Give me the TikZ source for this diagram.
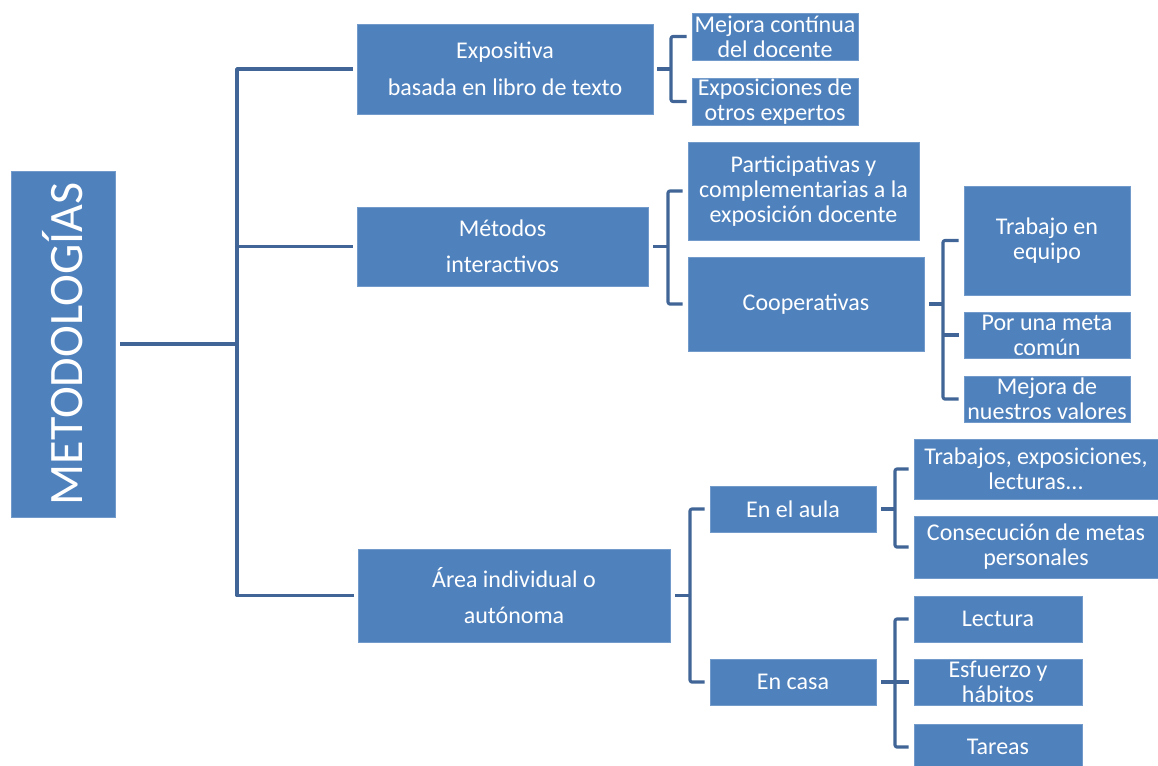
\documentclass[tikz,border=0pt]{standalone}
\usepackage{fontspec}
\setmainfont{Carlito}
\usepackage{graphicx}
\definecolor{boxblue}{RGB}{79,129,189}
\definecolor{lineblue}{RGB}{64,101,150}
\tikzset{
  bx/.style={fill=boxblue, draw=boxblue!80!white, line width=0.6pt, text=white, inner sep=0pt, align=center,
     font=\fontsize{24}{25}\selectfont},
  bxloose/.style={bx, font=\fontsize{24}{36.5}\selectfont},
  conn/.style={draw=lineblue, line width=3.6pt, line join=round},
  brk/.style={draw=lineblue, line width=3.2pt, line join=round, rounded corners=2pt},
}
\begin{document}
\begin{tikzpicture}[x=1pt,y=-1pt]
\useasboundingbox (0,0) rectangle (1158,765);
% boxes
\node[bx, minimum width=104pt, minimum height=346pt] (root) at (63,344)
  {\fontsize{48}{50}\selectfont\rotatebox{90}{METODOLOGÍAS}};
\node[bxloose, minimum width=296pt, minimum height=90pt] (expo) at (505,69) {Expositiva\\basada en libro de texto};
\node[bx, minimum width=166pt, minimum height=47pt] (mejora) at (775,36.5) {Mejora contínua\\del docente};
\node[bx, minimum width=166pt, minimum height=47pt] (exposic) at (775,101.5) {Exposiciones de\\otros expertos};
\node[bxloose, minimum width=291pt, minimum height=79pt] (metodos) at (502.5,246.5) {Métodos\\interactivos};
\node[bx, minimum width=231pt, minimum height=98pt] (partic) at (803.5,191) {Participativas y\\complementarias a la\\exposición docente};
\node[bx, minimum width=236pt, minimum height=94pt] (coop) at (806,304) {Cooperativas};
\node[bx, minimum width=166pt, minimum height=109pt] (trabajo) at (1047,240.5) {Trabajo en\\equipo};
\node[bx, minimum width=166pt, minimum height=46pt] (meta) at (1047,335) {Por una meta\\común};
\node[bx, minimum width=166pt, minimum height=46pt] (valores) at (1047,399) {Mejora de\\nuestros valores};
\node[bxloose, minimum width=312pt, minimum height=93pt] (area) at (514,595.5) {Área individual o\\autónoma};
\node[bx, minimum width=166pt, minimum height=46pt] (aula) at (793,509) {En el aula};
\node[bx, minimum width=166pt, minimum height=46pt] (casa) at (793,682) {En casa};
\node[bx, minimum width=244pt, minimum height=60pt] (trabajos) at (1036,469) {Trabajos, exposiciones,\\lecturas...};
\node[bx, minimum width=244pt, minimum height=62pt] (consec) at (1036,547) {Consecución de metas\\personales};
\node[bx, minimum width=168pt, minimum height=46pt] (lectura) at (998,619) {Lectura};
\node[bx, minimum width=168pt, minimum height=46pt] (esfuerzo) at (998,682) {Esfuerzo y\\hábitos};
\node[bx, minimum width=168pt, minimum height=46pt] (tareas) at (998,747) {Tareas};
% junctions
\coordinate (j0) at (237,344);
\coordinate (j1) at (671,69);
\coordinate (j2) at (668,246.5);
\coordinate (j3) at (943,304);
\coordinate (j4) at (690,595.5);
\coordinate (j5) at (895,509);
\coordinate (j6) at (895,682);
% connectors
\draw[conn] ([xshift=5pt]root.east) -- (j0);
\draw[conn] ([xshift=-4pt]expo.west) -| (j0) |- ([xshift=-4pt]area.west);
\draw[conn] (j0 |- metodos.west) -- ([xshift=-4pt]metodos.west);
\draw[brk] ([xshift=4pt]expo.east) -- (j1);
\draw[brk] ([xshift=-5pt]mejora.west) -| (j1) |- ([xshift=-5pt]exposic.west);
\draw[brk] ([xshift=5pt]metodos.east) -- (j2);
\draw[brk] ([xshift=-5pt]partic.west) -| (j2) |- ([xshift=-5pt]coop.west);
\draw[brk] ([xshift=5pt]coop.east) -- (j3);
\draw[brk] ([xshift=-5pt]trabajo.west) -| (j3) |- ([xshift=-5pt]valores.west);
\draw[brk] (j3 |- meta.west) -- ([xshift=-5pt]meta.west);
\draw[brk] ([xshift=5pt]area.east) -- (j4);
\draw[brk] ([xshift=-5pt]aula.west) -| (j4) |- ([xshift=-5pt]casa.west);
\draw[brk] ([xshift=5pt]aula.east) -- (j5);
\draw[brk] ([xshift=-5pt]trabajos.west) -| (j5) |- ([xshift=-5pt]consec.west);
\draw[brk] ([xshift=5pt]casa.east) -- (j6);
\draw[brk] ([xshift=-5pt]lectura.west) -| (j6) |- ([xshift=-5pt]tareas.west);
\draw[brk] (j6) -- ([xshift=-5pt]esfuerzo.west);
\end{tikzpicture}
\end{document}
